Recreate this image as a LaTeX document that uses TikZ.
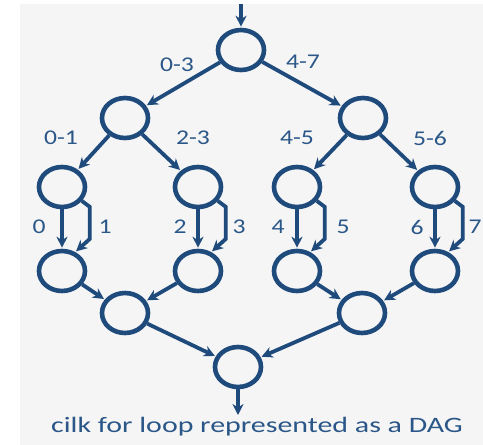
\documentclass[tikz,border=0pt]{standalone}
\usepackage{fontspec}
\setmainfont[FakeStretch=1.22]{Carlito}
\newfontfamily\capfont[FakeStretch=1.36]{Carlito}
\usetikzlibrary{arrows.meta,shapes.geometric}

\definecolor{dagblue}{HTML}{1F4A7C}
\definecolor{labblue}{HTML}{2A5788}
\definecolor{bggray}{HTML}{F5F5F5}

\tikzset{
  strand/.style={ellipse,draw=dagblue,line width=4.6pt,minimum width=46pt,minimum height=40pt,inner sep=0pt},
  spawn/.style={draw=dagblue,line width=3.8pt,-{Stealth[length=11pt,width=11pt,inset=3.5pt]},shorten >=1pt},
  rng/.style={text=labblue,font=\fontsize{21}{23}\selectfont,inner sep=0pt}
}

\begin{document}
\begin{tikzpicture}[x=1pt,y=-1pt]

% Frame
\useasboundingbox (0,0) rectangle (483,445);
\fill[bggray] (20,4) rectangle (483,445);

% Strands
\node[strand] (root) at (241,50) {};
\node[strand] (l03) at (125,118) {};
\node[strand] (l47) at (363,118) {};
\node[strand] (t0) at (62,187) {};
\node[strand] (t2) at (198,187) {};
\node[strand] (t4) at (297,187) {};
\node[strand] (t6) at (435,187) {};
\node[strand] (b0) at (62,271) {};
\node[strand] (b2) at (198,271) {};
\node[strand] (b4) at (297,271) {};
\node[strand] (b6) at (435,271) {};
\node[strand] (j03) at (125,313) {};
\node[strand] (j47) at (362,313) {};
\node[strand] (sink) at (238,367) {};

\coordinate (src) at (241,4);
\coordinate (dst) at (238,416);

% Spawn tree
\draw[spawn] (src) -- (root);
\draw[spawn] (root) -- (l03);
\draw[spawn] (root) -- (l47);
\draw[spawn] (l03) -- (t0);
\draw[spawn] (l03) -- (t2);
\draw[spawn] (l47) -- (t4);
\draw[spawn] (l47) -- (t6);

% Iterations
\foreach \s in {0,2,4,6} {
  \draw[spawn] (t\s.south) -- (b\s.north);
  \draw[spawn] (t\s.-35) -- ++(8,6) -- ++(0,32) -- (b\s.55);
}

% Sync
\draw[spawn] (b0) -- (j03);
\draw[spawn] (b2) -- (j03);
\draw[spawn] (b4) -- (j47);
\draw[spawn] (b6) -- (j47);
\draw[spawn] (j03) -- (sink);
\draw[spawn] (j47) -- (sink);
\draw[spawn] (sink) -- (dst);

% Labels
\node[rng] (r03) at (177,65) {0-3};
\node[rng] (r47) at (303,62) {4-7};
\node[rng] (r01) at (61,138) {0-1};
\node[rng] (r23) at (193,138) {2-3};
\node[rng] (r45) at (297,138) {4-5};
\node[rng] (r56) at (430,138) {5-6};
\node[rng] (i0) at (39,227) {0};
\node[rng] (i1) at (105,227) {1};
\node[rng] (i2) at (180,227) {2};
\node[rng] (i3) at (239,227) {3};
\node[rng] (i4) at (278,227) {4};
\node[rng] (i5) at (343,227) {5};
\node[rng] (i6) at (417,227) {6};
\node[rng] (i7) at (475,227) {7};

\node[rng,font=\capfont\fontsize{22}{24}\selectfont] (cap) at (257,427) {cilk for loop represented as a DAG};

\end{tikzpicture}
\end{document}
